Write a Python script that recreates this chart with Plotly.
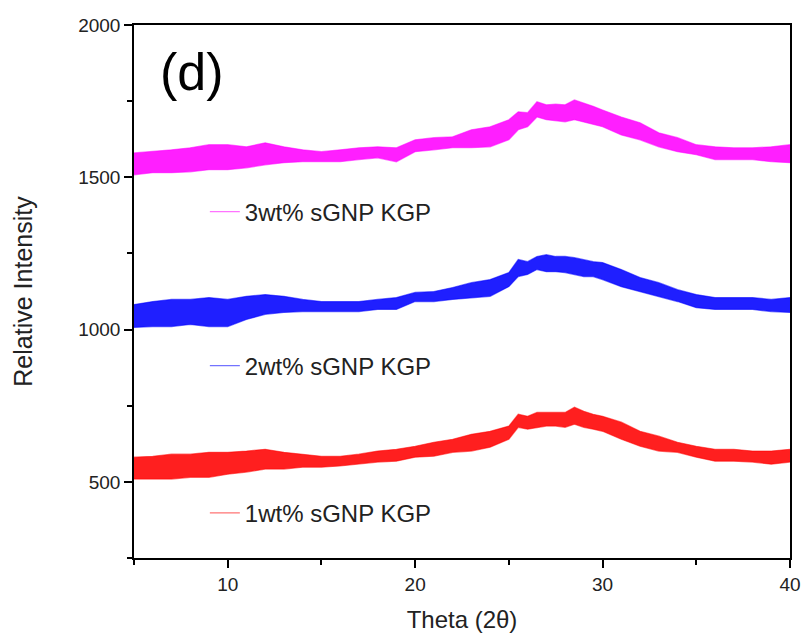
import plotly.graph_objects as go

# Diffraction angle grid (2-theta, degrees)
theta = [5, 6, 7, 8, 9, 10, 11, 12, 13, 14, 15, 16, 17, 18, 19, 20, 21, 22, 23, 24, 25,
         25.5, 26, 26.5, 27, 27.5, 28, 28.5, 29, 29.5,
         30, 31, 32, 33, 34, 35, 36, 37, 38, 39, 40]

# Noise envelope (upper / lower intensity) for each composite
kgp3_hi = [1580, 1584, 1590, 1597, 1607, 1607, 1600, 1613, 1600, 1590, 1584, 1590, 1597, 1600, 1597,
           1623, 1630, 1633, 1656, 1666, 1689, 1715, 1712, 1748, 1738, 1740, 1738, 1754, 1744, 1733,
           1721, 1698, 1679, 1646, 1630, 1607, 1600, 1597, 1597, 1600, 1607]
kgp3_lo = [1508, 1515, 1515, 1518, 1525, 1525, 1531, 1541, 1548, 1551, 1551, 1551, 1558, 1564, 1551,
           1584, 1590, 1597, 1597, 1600, 1623, 1656, 1666, 1698, 1689, 1686, 1682, 1689, 1682, 1675,
           1666, 1639, 1623, 1600, 1584, 1574, 1558, 1558, 1558, 1551, 1548]

kgp2_hi = [1082, 1092, 1099, 1099, 1105, 1099, 1109, 1115, 1109, 1099, 1092, 1092, 1092, 1099, 1105,
           1122, 1125, 1138, 1154, 1164, 1187, 1230, 1223, 1240, 1246, 1240, 1240, 1236, 1230, 1223,
           1220, 1197, 1171, 1154, 1131, 1115, 1105, 1105, 1105, 1099, 1105]
kgp2_lo = [1007, 1010, 1010, 1017, 1010, 1010, 1033, 1050, 1056, 1059, 1059, 1059, 1059, 1066, 1066,
           1092, 1092, 1099, 1105, 1109, 1141, 1174, 1181, 1197, 1190, 1190, 1187, 1181, 1174, 1174,
           1164, 1141, 1125, 1109, 1092, 1072, 1066, 1066, 1066, 1059, 1056]

kgp1_hi = [581, 584, 591, 591, 597, 597, 601, 607, 597, 591, 584, 584, 591, 601, 607,
           617, 630, 640, 656, 666, 683, 722, 715, 728, 728, 728, 728, 745, 732, 722,
           715, 696, 666, 650, 630, 617, 607, 607, 601, 601, 607]
kgp1_lo = [509, 509, 509, 515, 515, 525, 532, 542, 542, 548, 548, 552, 558, 565, 568,
           581, 584, 597, 601, 614, 640, 679, 673, 679, 683, 683, 679, 689, 679, 673,
           666, 640, 617, 601, 597, 581, 568, 568, 565, 558, 565]

series = [
    ("1wt% sGNP KGP", kgp1_lo, kgp1_hi, (255, 0, 0), "legend3"),
    ("2wt% sGNP KGP", kgp2_lo, kgp2_hi, (0, 0, 255), "legend2"),
    ("3wt% sGNP KGP", kgp3_lo, kgp3_hi, (255, 0, 255), "legend"),
]


def rgba(c, a):
    return f"rgba({c[0]},{c[1]},{c[2]},{a})"


fig = go.Figure()
for name, lo, hi, c, leg in series:
    # lower edge carries the legend entry (plain line symbol)
    fig.add_trace(go.Scatter(x=theta, y=lo, mode="lines", name=name, legend=leg,
                             line=dict(color=rgba(c, 0.55), width=1.2), showlegend=True))
    # upper edge, filled down to the lower edge to form the noise band
    fig.add_trace(go.Scatter(x=theta, y=hi, mode="lines", fill="tonexty",
                             fillcolor=rgba(c, 0.88),
                             line=dict(color=rgba(c, 0.55), width=1.2),
                             showlegend=False, legend=leg))

FONT = "Liberation Sans, Arial, sans-serif"
legend_style = dict(xanchor="left", yanchor="middle", bgcolor="rgba(0,0,0,0)",
                    font=dict(family=FONT, size=24, color="#222"))

axis_common = dict(showline=True, linecolor="black", linewidth=1.5, mirror=True,
                   ticks="outside", ticklen=8, tickwidth=1.5, tickcolor="black",
                   showgrid=False, zeroline=False, automargin=False,
                   tickfont=dict(family=FONT, size=19, color="#222"))

fig.update_layout(
    width=805, height=642,
    margin=dict(l=134, r=15, t=25, b=84),
    paper_bgcolor="white", plot_bgcolor="white",
    font=dict(family=FONT, color="#222"),
    xaxis=dict(range=[5, 40], tick0=0, dtick=10,
               minor=dict(ticks="outside", ticklen=5, tickwidth=1.5, tickcolor="black", dtick=5, tick0=0),
               title=dict(text="Theta (2θ)", font=dict(family=FONT, size=24, color="#222"), standoff=18),
               **axis_common),
    yaxis=dict(range=[250, 2000], tick0=0, dtick=500,
               minor=dict(ticks="outside", ticklen=5, tickwidth=1.5, tickcolor="black", dtick=250, tick0=0),
               title=dict(text="Relative Intensity", font=dict(family=FONT, size=25, color="#222"), standoff=38),
               **axis_common),
    legend=dict(x=0.108, y=0.649, **legend_style),
    legend2=dict(x=0.108, y=0.360, **legend_style),
    legend3=dict(x=0.108, y=0.084, **legend_style),
    annotations=[dict(text="(d)", xref="paper", yref="paper", x=0.036, y=0.912,
                      xanchor="left", yanchor="middle", showarrow=False,
                      font=dict(family=FONT, size=52, color="black"))],
)

fig.write_html("out.html")
